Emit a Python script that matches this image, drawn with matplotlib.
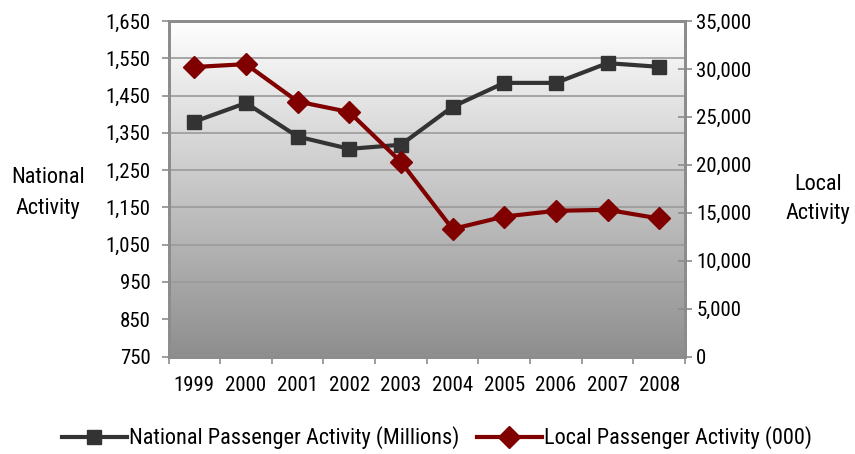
import numpy as np
import matplotlib
matplotlib.use("Agg")
import matplotlib.pyplot as plt
from matplotlib.ticker import FuncFormatter

plt.rcParams['font.family'] = ['Roboto Condensed', 'DejaVu Sans']

years = ['1999', '2000', '2001', '2002', '2003', '2004', '2005', '2006', '2007', '2008']
national = [1380, 1430, 1340, 1307, 1318, 1420, 1484, 1484, 1537, 1527]
local = [30200, 30500, 26600, 25500, 20300, 13300, 14600, 15200, 15300, 14400]
left_ticks = [750, 850, 950, 1050, 1150, 1250, 1350, 1450, 1550, 1650]
right_ticks = [0, 5000, 10000, 15000, 20000, 25000, 30000, 35000]

fig = plt.figure(figsize=(8.55, 4.54), dpi=100)
ax = fig.add_axes([168.5/855, (454-356.5)/454, 516.5/855, 335.5/454])
ax2 = ax.twinx()

x = np.arange(len(years))
ax.set_xlim(-0.5, len(years) - 0.5)
ax.set_ylim(750, 1650)
ax2.set_ylim(0, 35000)

# gradient background (white at top, gray at bottom)
grad = np.linspace(0, 1, 256).reshape(-1, 1)
cmap = matplotlib.colors.LinearSegmentedColormap.from_list('g', ['#ffffff', '#8e8e8e'])
ax.imshow(grad, aspect='auto', cmap=cmap, origin='upper', extent=[0, 1, 0, 1],
          transform=ax.transAxes, zorder=0)

for t in left_ticks[1:-1]:
    ax.axhline(t, color='#9a9a9a', lw=1.2, zorder=1)

fs = 15
l1, = ax.plot(x, national, color='#333333', lw=3, marker='s', markersize=10, zorder=3,
              label='National Passenger Activity (Millions)')
l2, = ax2.plot(x, local, color='#800000', lw=3, marker='D', markersize=11, zorder=3,
               label='Local Passenger Activity (000)')

ax.set_yticks(left_ticks)
ax.yaxis.set_major_formatter(FuncFormatter(lambda v, p: f'{int(v):,}'))
ax2.set_yticks(right_ticks)
ax2.yaxis.set_major_formatter(FuncFormatter(lambda v, p: f'{int(v):,}'))
ax.set_xticks(x)
ax.set_xticklabels(years)
ax.set_xticks(np.arange(len(years) + 1) - 0.5, minor=True)
ax.tick_params(axis='x', which='major', length=0, labelsize=fs, pad=14)
ax.tick_params(axis='x', which='minor', length=5, color='#8c8c8c', width=1.2)
ax.tick_params(axis='y', length=5, color='#8c8c8c', width=1.2, labelsize=fs, pad=8)
ax2.tick_params(axis='y', direction='inout', length=10, color='#8c8c8c', width=1.2, labelsize=fs, pad=3)

for a in (ax, ax2):
    for s in a.spines.values():
        s.set_color('#8c8c8c')
        s.set_linewidth(2)

ax.set_facecolor('none')
fig.text(48/855, 1 - 193/454, 'National\nActivity', ha='center', va='center', fontsize=16, linespacing=1.65)
fig.text(818/855, 1 - 199/454, 'Local\nActivity', ha='center', va='center', fontsize=16, linespacing=1.5)

fig.legend(handles=[l1, l2], loc='center', bbox_to_anchor=(437/855, 1 - 438/454), ncol=2,
           frameon=False, fontsize=16, handlelength=2.9, handletextpad=0.1, columnspacing=0.8)

fig.savefig('out.png', dpi=100)
